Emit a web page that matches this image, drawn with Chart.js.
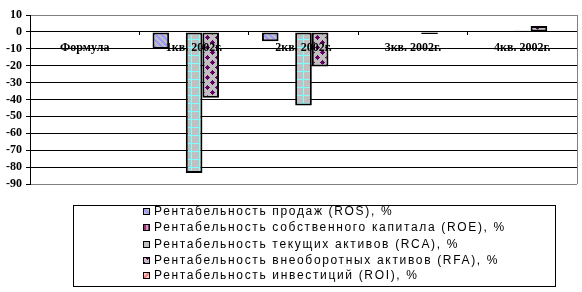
<!DOCTYPE html>
<html>
<head>
<meta charset="utf-8">
<script src="https://cdn.jsdelivr.net/npm/chart.js@4.4.0/dist/chart.umd.min.js"></script>
<style>
    html, body { margin: 0; padding: 0; background: #fff; }
    #wrap { width: 582px; height: 292px; position: relative; }
</style>
</head>
<body>
<div id="wrap"><canvas id="c"></canvas></div>
<script>
// data
const categories = ['Формула', '1кв. 2002г.', '2кв. 2002г.', '3кв. 2002г.', '4кв. 2002г.'];
const seriesNames = [
    'Рентабельность продаж (ROS), %',
    'Рентабельность собственного капитала (ROE), %',
    'Рентабельность текущих активов (RCA), %',
    'Рентабельность внеоборотных активов (RFA), %',
    'Рентабельность инвестиций (ROI), %'
];
const rosValues = [0, -10, -5.5, 0, 0];
const roeValues = [0, 0, 0, 0, 0];
const rcaValues = [0, -83.5, -43.5, 0.6, 0.7];
const rfaValues = [0, -39, -20.5, -1.2, 3.5];
const roiValues = [0, 0, 0, 0, 0];
const yMin = -90, yMax = 10, yStep = 10;

// fill patterns, roughly like the old excel hatches
function makePattern(size, pick) {
    const c = document.createElement('canvas');
    c.width = size; c.height = size;
    const g = c.getContext('2d');
    for (let y = 0; y < size; y++) {
        for (let x = 0; x < size; x++) {
            g.fillStyle = pick(x, y);
            g.fillRect(x, y, 1, 1);
        }
    }
    return g.createPattern(c, 'repeat');
}
const grey = '#C0C0C0';
const rosFill = makePattern(6, (x, y) => ((x - y + 6) % 6 < 3) ? '#9999FF' : grey);
const roeFill = makePattern(4, (x, y) => (x < 2) ? '#993366' : '#CC99CC');
const rcaFill = makePattern(8, (x, y) => (x === 7 || y === 7) ? '#80FFFF' : grey);
const rfaFill = makePattern(10, (x, y) => {
    const near = (cx, cy) => {
        const dx = Math.min(Math.abs(x - cx), 10 - Math.abs(x - cx));
        const dy = Math.min(Math.abs(y - cy), 10 - Math.abs(y - cy));
        return dx + dy <= 2;
    };
    return (near(2, 2) || near(7, 7)) ? '#660066' : grey;
});
const roiFill = makePattern(6, (x, y) => ((x + y) % 6 < 3) ? '#FF8080' : '#FFCCCC');

const fills = [rosFill, roeFill, rcaFill, rfaFill, roiFill];
const values = [rosValues, roeValues, rcaValues, rfaValues, roiValues];

const boxLegend = {
    id: 'boxLegend',
    beforeDatasetsDraw(chart) {
        const {ctx, chartArea} = chart;
        ctx.save();
        ctx.strokeStyle = '#808080';
        ctx.lineWidth = 1;
        ctx.beginPath();
        ctx.moveTo(chartArea.right + 0.5, chartArea.top);
        ctx.lineTo(chartArea.right + 0.5, chartArea.bottom);
        ctx.stroke();
        ctx.restore();
    },
    afterDraw(chart) {
        const ctx = chart.ctx;
        ctx.save();
        ctx.strokeStyle = '#000';
        ctx.lineWidth = 1;
        ctx.strokeRect(73.5, 205.5, 482, 81);

        ctx.font = '12px "Liberation Sans", Arial, sans-serif';
        ctx.fillStyle = '#000';
        ctx.textBaseline = 'middle';
        // spread letters so the longest line spans about the same width as the picture
        let longest = '';
        seriesNames.forEach(s => { if (ctx.measureText(s).width > ctx.measureText(longest).width) longest = s; });
        const spacing = Math.max(0, (352 - ctx.measureText(longest).width) / longest.length);
        ctx.letterSpacing = spacing.toFixed(2) + 'px';

        const rowY = [212, 228, 245, 261, 276];
        chart.data.datasets.forEach((ds, i) => {
            const y = rowY[i];
            ctx.fillStyle = ds.backgroundColor;
            ctx.fillRect(143, y - 4, 7, 7);
            ctx.strokeStyle = '#000';
            ctx.strokeRect(143.5, y - 3.5, 6, 6);
            ctx.fillStyle = '#000';
            ctx.fillText(ds.label, 154, y);
        });
        ctx.restore();
    }
};

new Chart(document.getElementById('c'), {
    type: 'bar',
    data: {
        labels: categories,
        datasets: seriesNames.map((name, i) => ({
            label: name,
            data: values[i],
            backgroundColor: fills[i],
            borderColor: '#000',
            borderWidth: 2,
            borderSkipped: false
        }))
    },
    options: {
        responsive: true,
        maintainAspectRatio: false,
        animation: false,
        layout: { padding: { left: 0, top: 15, right: 5, bottom: 108 } },
        datasets: { bar: { categoryPercentage: 0.76, barPercentage: 1 } },
        plugins: {
            legend: { display: false },
            tooltip: { enabled: false }
        },
        scales: {
            x: {
                type: 'category',
                position: { y: 0 },
                offset: true,
                grid: {
                    drawOnChartArea: false,
                    drawTicks: true,
                    tickLength: 3,
                    color: '#000',
                    offset: true
                },
                border: { color: '#000', width: 1 },
                ticks: {
                    z: 1, // labels sit on top of the bars, like in the picture
                    color: '#000',
                    font: { family: '"Liberation Serif", "Times New Roman", serif', size: 12, weight: 'bold' },
                    padding: 6,
                    maxRotation: 0,
                    autoSkip: false
                }
            },
            y: {
                min: yMin,
                max: yMax,
                afterFit(scale) { scale.width = 30; },
                grid: {
                    color: (c) => (c.tick && (c.tick.value === yMax || c.tick.value === yMin)) ? '#808080' : '#000',
                    tickColor: '#000',
                    tickLength: 4,
                    lineWidth: 1
                },
                border: { color: '#000', width: 1 },
                ticks: {
                    stepSize: yStep,
                    autoSkip: false,
                    color: '#000',
                    padding: 4,
                    font: { family: '"Liberation Serif", "Times New Roman", serif', size: 12, weight: 'bold' }
                }
            }
        }
    },
    plugins: [boxLegend]
});
</script>
</body>
</html>
